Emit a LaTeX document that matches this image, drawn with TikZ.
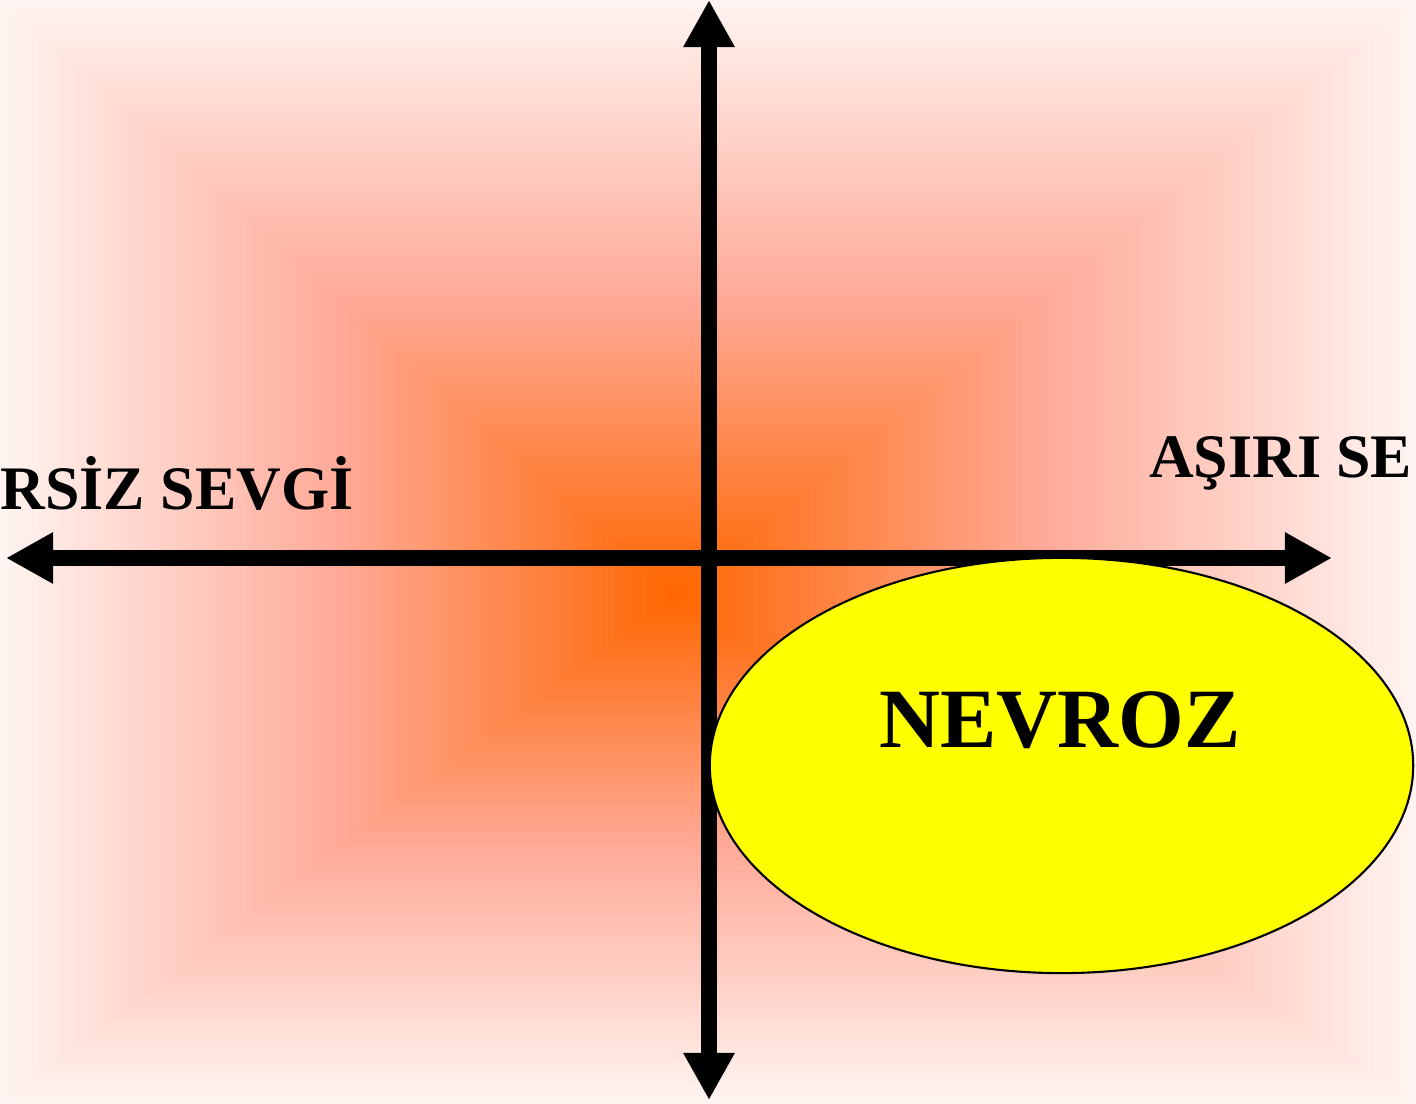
\documentclass[tikz,border=0pt]{standalone}
\usepackage{fontspec}
\setmainfont{Liberation Serif}
\usetikzlibrary{arrows.meta, shapes.geometric}
\definecolor{bgcenter}{HTML}{FF6600}
\definecolor{bgmid}{HTML}{FFAA98}
\definecolor{bgedge}{HTML}{FFF4F1}
\definecolor{nevrozfill}{HTML}{FFFF00}
\tikzset{>={Triangle[length=13.4pt, width=13.7pt]}}
\tikzset{axis/.style={<->, line width=4.55pt, black}}
\tikzset{label/.style={inner sep=0pt, font=\fontsize{17.6}{20}\selectfont\bfseries}}

\begin{document}
\begin{tikzpicture}[x=0.01cm, y=-0.01cm]
	\useasboundingbox (0,0) rectangle (1416,1104);
	\clip (0,0) rectangle (1416,1104);
	% background
	\foreach \i in {0,...,120} {
		\pgfmathsetmacro{\t}{1-\i/120}
		\pgfmathtruncatemacro{\p}{\t>0.5 ? (\t-0.5)*200 : \t*200}
		\ifdim \t pt>0.5pt
			\fill [bgedge!\p!bgmid] (675-675*\t, 595-595*\t) rectangle (675+741*\t, 595+509*\t);
		\else
			\fill [bgmid!\p!bgcenter] (675-675*\t, 595-595*\t) rectangle (675+741*\t, 595+509*\t);
		\fi
	}
	% axes
	\coordinate (top) at (709,0);
	\coordinate (bottom) at (709,1100);
	\coordinate (left) at (6,558);
	\coordinate (right) at (1332,558);
	\draw [axis] (bottom) -- (top);
	\draw [axis] (left) -- (right);
	\node [label, anchor=base west] (az) at (0,510) {RSİZ SEVGİ};
	\node [label, anchor=base east] (asiri) at (1413,478) {AŞIRI SE};
	% ellipse
	\node [ellipse, draw, line width=0.6pt, fill=nevrozfill, minimum width=7.03cm, minimum height=4.15cm, inner sep=0pt] (nevroz) at (1061.5,765.5) {};
	\node [inner sep=0pt, anchor=base, font=\fontsize{24}{28}\selectfont\bfseries] (nevrozlabel) at (1060,747) {NEVROZ};
\end{tikzpicture}
\end{document}
